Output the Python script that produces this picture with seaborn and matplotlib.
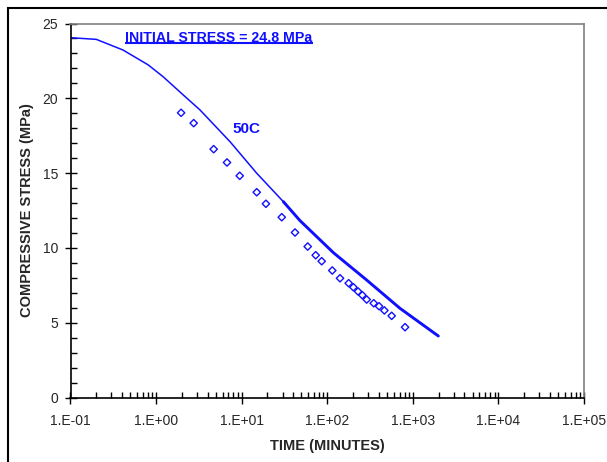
import numpy as np
import pandas as pd
import matplotlib
matplotlib.use("Agg")
import matplotlib.pyplot as plt
import matplotlib.ticker as mticker
from matplotlib.patches import Rectangle
import seaborn as sns

# measured data (time in minutes, stress in MPa)
meas_time = [1.96, 2.75, 4.71, 6.74, 9.49, 15.0, 19.2, 29.4, 42.0, 59.1, 73.3, 86.1,
             114.5, 141, 178, 202, 229, 257, 289, 349, 403, 465, 566, 811]
meas_stress = [19.03, 18.34, 16.60, 15.71, 14.82, 13.72, 12.95, 12.05, 11.03, 10.09,
               9.51, 9.11, 8.49, 7.97, 7.64, 7.37, 7.09, 6.84, 6.55, 6.30, 6.10, 5.82,
               5.46, 4.70]

# model curve (50C)
model_time = [0.1, 0.2, 0.41, 0.81, 1.21, 2.08, 3.26, 7.31, 15.0, 30.7, 48.1, 118,
              289, 708, 1986]
model_stress = [24.05, 23.94, 23.23, 22.23, 21.44, 20.22, 19.22, 17.1, 14.99, 13.09,
                11.82, 9.68, 7.85, 5.96, 4.11]

xtick_vals = [1e-1, 1e0, 1e1, 1e2, 1e3, 1e4, 1e5]
xtick_labels = ["1.E-01", "1.E+00", "1.E+01", "1.E+02", "1.E+03", "1.E+04", "1.E+05"]
ytick_vals = [0, 5, 10, 15, 20, 25]

sns.set_style("white")
plt.rcParams['font.family'] = ['Liberation Sans', 'DejaVu Sans']

BLUE = "#1010ff"

fig = plt.figure(figsize=(6.07, 4.62), dpi=100)
ax = fig.add_axes([70.5/607, 1-397.5/462, 513.5/607, 374/462])

mdf = pd.DataFrame({"t": model_time, "s": model_stress})
ddf = pd.DataFrame({"t": meas_time, "s": meas_stress})

ax.set_xscale("log")
sns.lineplot(data=mdf, x="t", y="s", ax=ax, color=BLUE, lw=1.1, estimator=None, sort=False)
sns.lineplot(data=mdf[mdf["t"] >= 30], x="t", y="s", ax=ax, color=BLUE, lw=2.1,
             estimator=None, sort=False)
sns.scatterplot(data=ddf, x="t", y="s", ax=ax, marker="D", s=14, facecolor="none",
                edgecolor=BLUE, linewidth=1.0, zorder=3)

ax.set_xlim(1e-1, 1e5)
ax.set_ylim(0, 25)
ax.set_xticks(xtick_vals)
ax.set_xticklabels(xtick_labels)
ax.xaxis.set_minor_locator(mticker.LogLocator(base=10, subs=np.arange(2, 10)))
ax.xaxis.set_minor_formatter(mticker.NullFormatter())
ax.set_yticks(ytick_vals)
ax.yaxis.set_minor_locator(mticker.MultipleLocator(1))

ax.tick_params(bottom=True, left=True, top=False, right=False, which="both")
ax.tick_params(axis="both", which="major", direction="inout", length=8, width=1,
               labelsize=10, color="black")
ax.tick_params(axis="both", which="minor", direction="in", length=4, width=1, color="black")
ax.tick_params(axis="x", which="major", pad=8)
ax.tick_params(axis="y", which="major", pad=5)

for s in ["left", "bottom"]:
    ax.spines[s].set_color("black")
    ax.spines[s].set_linewidth(1.2)
for s in ["top", "right"]:
    ax.spines[s].set_color("#808080")
    ax.spines[s].set_linewidth(1.2)

ax.set_xlabel("TIME (MINUTES)", fontsize=10.5, fontweight="bold", labelpad=8)
ax.set_ylabel("COMPRESSIVE STRESS (MPa)", fontsize=10.5, fontweight="bold", labelpad=6)

ax.text(0.106, 0.981, "INITIAL STRESS = 24.8 MPa", transform=ax.transAxes, color=BLUE,
        fontsize=10.2, fontweight="bold", va="top", ha="left")
# underline
ax.plot([0.106, 0.473], [0.948, 0.948], transform=ax.transAxes, color=BLUE, lw=1.5,
        solid_capstyle="butt")
ax.text(0.3145, 0.718, "50C", transform=ax.transAxes, color=BLUE, fontsize=11,
        fontweight="bold", va="center", ha="left")

# outer frame
fig.patches.append(Rectangle((8/607, -0.1), 1.2, 1 - 7.5/462 + 0.1, transform=fig.transFigure,
                             fill=False, edgecolor="black", lw=1.5, clip_on=False))

fig.savefig("out.png", dpi=100)
